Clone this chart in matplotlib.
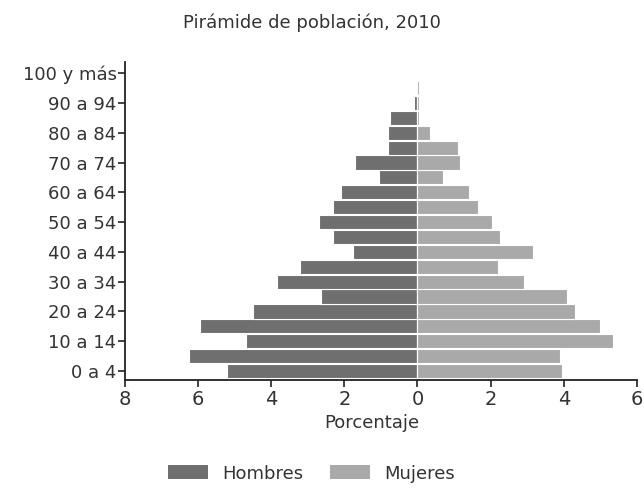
import matplotlib
matplotlib.use('Agg')
import matplotlib.pyplot as plt
from matplotlib.patches import Patch

plt.rcParams['font.family'] = ['Liberation Sans Narrow', 'DejaVu Sans']

# age groups, 0-4 up to 100+
grupos = list(range(21))
etiquetas = ['0 a 4', '10 a 14', '20 a 24', '30 a 34', '40 a 44', '50 a 54',
             '60 a 64', '70 a 74', '80 a 84', '90 a 94', '100 y más']
hombres = [5.2, 6.25, 4.7, 5.95, 4.5, 2.65, 3.85, 3.2, 1.75, 2.3, 2.7,
           2.3, 2.1, 1.05, 1.7, 0.8, 0.8, 0.75, 0.1, 0.05, 0.05]
mujeres = [3.95, 3.9, 5.35, 5.0, 4.3, 4.1, 2.9, 2.2, 3.15, 2.25, 2.05,
           1.65, 1.4, 0.7, 1.15, 1.1, 0.35, 0.05, 0.05, 0.03, 0.02]
xticks = [-8, -6, -4, -2, 0, 2, 4, 6]

fig = plt.figure(figsize=(6.44, 4.96), dpi=100)
ax = fig.add_axes([0.194, 0.234, 0.795, 0.641])

txt = '#333333'
ax.barh(grupos, [-v for v in hombres], height=0.95, color='#6f6f6f',
        edgecolor='white', linewidth=0.8)
ax.barh(grupos, mujeres, height=0.95, color='#a9a9a9',
        edgecolor='white', linewidth=0.8)
ax.axvline(0, color='white', lw=0.8)

ax.set_xlim(-8, 6)
ax.set_ylim(-0.6, 20.75)
ax.set_xticks(xticks)
ax.set_xticklabels([str(abs(t)) for t in xticks], fontsize=14, color=txt)
ax.set_yticks(grupos[::2])
ax.set_yticklabels(etiquetas, fontsize=13, color=txt)

for s in ['top', 'right']:
    ax.spines[s].set_visible(False)
for s in ['left', 'bottom']:
    ax.spines[s].set_color('#222222')
    ax.spines[s].set_linewidth(1.3)
ax.tick_params(axis='both', colors='#222222', width=1.2, length=5)
ax.tick_params(axis='x', pad=2)
ax.tick_params(axis='y', pad=1)
for lb in ax.get_xticklabels() + ax.get_yticklabels():
    lb.set_color(txt)

fig.text(0.485, 0.955, 'Pirámide de población, 2010', ha='center', va='center',
         fontsize=13, color=txt)
fig.text(0.578, 0.147, 'Porcentaje', ha='center', va='center',
         fontsize=13, color=txt)

handles = [Patch(facecolor='#6f6f6f', label='Hombres'),
           Patch(facecolor='#a9a9a9', label='Mujeres')]
fig.legend(handles=handles, loc='center', bbox_to_anchor=(0.484, 0.045), ncol=2,
           frameon=False, fontsize=13, handlelength=2.2, handleheight=0.8,
           columnspacing=1.5, labelcolor=txt)

fig.savefig('out.png', dpi=100)
